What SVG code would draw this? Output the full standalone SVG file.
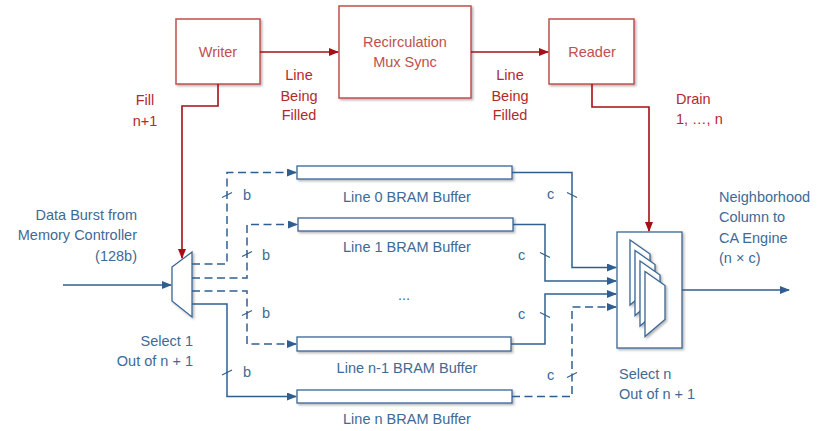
<svg xmlns="http://www.w3.org/2000/svg" width="818" height="431" viewBox="0 0 818 431">
<defs>
<filter id="sh" x="-20%" y="-20%" width="150%" height="160%">
<feDropShadow dx="1.5" dy="1.5" stdDeviation="1" flood-color="#000" flood-opacity="0.3"/>
</filter>
<marker id="ab" markerWidth="10" markerHeight="8" refX="9" refY="4" orient="auto" markerUnits="userSpaceOnUse">
<path d="M0,0 L10,4 L0,8 z" fill="#2F5F91"/>
</marker>
<marker id="ar" markerWidth="10" markerHeight="8" refX="9" refY="4" orient="auto" markerUnits="userSpaceOnUse">
<path d="M0,0 L10,4 L0,8 z" fill="#A50F15"/>
</marker>
</defs>
<style>
.rbox{fill:#fff;stroke:#C0504D;stroke-width:1.5;filter:url(#sh)}
.bbox{fill:#fff;stroke:#3A6794;stroke-width:1.3;filter:url(#sh)}
.rt{font-family:"Liberation Sans",Arial,sans-serif;font-size:14.5px;fill:#B22A2A}
.rt2{font-family:"Liberation Sans",Arial,sans-serif;font-size:14.5px;fill:#C0504D}
.bt{font-family:"Liberation Sans",Arial,sans-serif;font-size:14.5px;fill:#3E6A96}
.rl{fill:none;stroke:#A50F15;stroke-width:1.6}
.bl{fill:none;stroke:#2F5F91;stroke-width:1.5}
.dl{fill:none;stroke:#2F5F91;stroke-width:1.5;stroke-dasharray:8 4.5}
.tk{stroke:#2F5F91;stroke-width:1.2}
.mid{text-anchor:middle}
.end{text-anchor:end}
</style>

<g id="writer">
<rect class="rbox" x="176" y="19" width="84" height="65"/>
<text class="rt2 mid" x="218" y="57">Writer</text>
</g>
<g id="recirculation">
<rect class="rbox" x="339" y="6" width="132" height="92"/>
<text class="rt2 mid" x="405" y="47">Recirculation</text>
<text class="rt2 mid" x="405" y="67">Mux Sync</text>
</g>
<g id="reader">
<rect class="rbox" x="549" y="19" width="85" height="65"/>
<text class="rt2 mid" x="592" y="57">Reader</text>
</g>

<g id="mux-in">
<polygon class="bbox" points="172,267 192,252 192,317 172,301"/>
<text class="bt end" x="193" y="346">Select 1</text>
<text class="bt end" x="193" y="366">Out of n + 1</text>
</g>

<g id="buf0">
<rect class="bbox" x="297" y="166" width="215" height="13"/>
<text class="bt mid" x="407" y="202">Line 0 BRAM Buffer</text>
</g>
<g id="buf1">
<rect class="bbox" x="298" y="218" width="215" height="13"/>
<text class="bt mid" x="407" y="252">Line 1 BRAM Buffer</text>
</g>
<g id="bufn1">
<rect class="bbox" x="297" y="337" width="214" height="14"/>
<text class="bt mid" x="407" y="373">Line n-1 BRAM Buffer</text>
</g>
<g id="bufn">
<rect class="bbox" x="297" y="390" width="215" height="13"/>
<text class="bt mid" x="407" y="424">Line n BRAM Buffer</text>
</g>
<g id="ellipsis">
<text class="bt mid" x="404" y="300">...</text>
</g>

<g id="mux-out">
<rect class="bbox" x="617" y="232" width="65" height="116"/>
<polygon class="bbox" points="630,240 650,254 650,288 630,305"/>
<polygon class="bbox" points="635,250.5 655,264.5 655,298.5 635,315.5"/>
<polygon class="bbox" points="640,261 660,275 660,309 640,326"/>
<polygon class="bbox" points="645,271.5 665,285.5 665,319.5 645,336.5"/>
<text class="bt" x="619" y="379">Select n</text>
<text class="bt" x="619" y="399">Out of n + 1</text>
</g>

<g id="connectors">
<path class="rl" d="M260,52 H338" marker-end="url(#ar)"/>
<path class="rl" d="M471,52 H548" marker-end="url(#ar)"/>
<path class="rl" d="M218,84 V106 H182 V258" marker-end="url(#ar)"/>
<path class="rl" d="M592,84 V107 H649 V231" marker-end="url(#ar)"/>

<path class="bl" d="M63,285 H171" marker-end="url(#ab)"/>
<path class="dl" d="M192,264 H227 V172.5 H296" marker-end="url(#ab)"/>
<path class="dl" d="M192,278 H247 V224.5 H297" marker-end="url(#ab)"/>
<path class="dl" d="M192,291 H247 V344 H296" marker-end="url(#ab)"/>
<path class="bl" d="M192,304 H227 V396.5 H296" marker-end="url(#ab)"/>

<path class="bl" d="M512,172.5 H572 V267.5 H616" marker-end="url(#ab)"/>
<path class="bl" d="M513,224.5 H545 V281 H616" marker-end="url(#ab)"/>
<path class="bl" d="M511,344 H545 V294 H616" marker-end="url(#ab)"/>
<path class="dl" d="M512,396.5 H572 V307 H616" marker-end="url(#ab)"/>
<path class="bl" d="M682,290 H789" marker-end="url(#ab)"/>

<line class="tk" x1="222" y1="197.5" x2="232" y2="192.5"/>
<line class="tk" x1="242" y1="256.5" x2="252" y2="251.5"/>
<line class="tk" x1="242" y1="315.5" x2="252" y2="310.5"/>
<line class="tk" x1="222" y1="375" x2="232" y2="370"/>
<line class="tk" x1="567" y1="192.5" x2="577" y2="197.5"/>
<line class="tk" x1="540" y1="252.5" x2="550" y2="257.5"/>
<line class="tk" x1="540" y1="312.5" x2="550" y2="317.5"/>
<line class="tk" x1="567" y1="377.5" x2="577" y2="372.5"/>
</g>

<g id="labels">
<text class="rt mid" x="299" y="80">Line</text>
<text class="rt mid" x="299" y="101">Being</text>
<text class="rt mid" x="299" y="120">Filled</text>
<text class="rt mid" x="510" y="80">Line</text>
<text class="rt mid" x="510" y="101">Being</text>
<text class="rt mid" x="510" y="120">Filled</text>
<text class="rt mid" x="145" y="105">Fill</text>
<text class="rt mid" x="145" y="126">n+1</text>
<text class="rt" x="676" y="104">Drain</text>
<text class="rt" x="676" y="124">1, …, n</text>

<text class="bt end" x="137" y="220">Data Burst from</text>
<text class="bt end" x="137" y="240">Memory Controller</text>
<text class="bt end" x="137" y="261">(128b)</text>
<text class="bt" x="719" y="202">Neighborhood</text>
<text class="bt" x="719" y="222">Column to</text>
<text class="bt" x="719" y="243">CA Engine</text>
<text class="bt" x="719" y="263">(n × c)</text>

<text class="bt" x="243" y="200">b</text>
<text class="bt" x="262" y="260">b</text>
<text class="bt" x="262" y="318">b</text>
<text class="bt" x="243" y="377">b</text>
<text class="bt" x="547" y="199">c</text>
<text class="bt" x="518" y="260">c</text>
<text class="bt" x="518" y="319">c</text>
<text class="bt" x="547" y="380">c</text>
</g>
</svg>
